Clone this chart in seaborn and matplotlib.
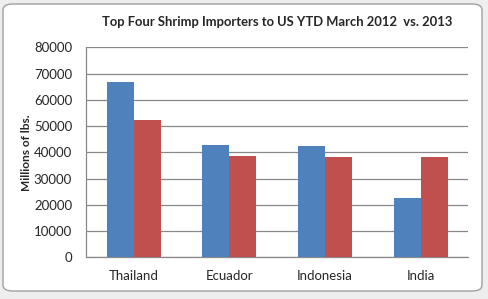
import matplotlib
matplotlib.use("Agg")
import matplotlib.pyplot as plt
from matplotlib.patches import FancyBboxPatch
import seaborn as sns
import pandas as pd

countries = ["Thailand", "Ecuador", "Indonesia", "India"]
years = ["2012", "2013"]
values_2012 = [66800, 42700, 42400, 22500]
values_2013 = [52300, 38600, 38200, 38200]
yticks = [0, 10000, 20000, 30000, 40000, 50000, 60000, 70000, 80000]

df = pd.DataFrame({
    "country": countries * 2,
    "year": [years[0]] * 4 + [years[1]] * 4,
    "value": values_2012 + values_2013,
})

sns.set_style("white")
plt.rcParams["font.family"] = ["Lato", "DejaVu Sans"]

fig = plt.figure(figsize=(4.88, 2.99), dpi=100)
fig.patch.set_facecolor("#eeeeee")
frame = FancyBboxPatch((3 / 488, 8 / 299), 479 / 488, 287 / 299,
                       boxstyle="round,pad=0,rounding_size=0.02",
                       transform=fig.transFigure, facecolor="white",
                       edgecolor="#a0a0a0", linewidth=1.0, zorder=-5)
fig.patches.append(frame)

ax = fig.add_axes([86 / 488, 1 - 257.3 / 299, (468.3 - 86) / 488, 210 / 299])
ax.set_zorder(2)
ax.set_facecolor("none")
sns.barplot(data=df, x="country", y="value", hue="year",
            palette=["#4F81BD", "#C0504D"], width=0.565, gap=0,
            saturation=1, ax=ax, legend=False, zorder=3, linewidth=0)

ax.set_ylim(0, 80000)
ax.set_xlim(-0.5, 3.5)
ax.set_yticks(yticks)
ax.set_yticklabels([str(v) for v in yticks], fontsize=9.5)
ax.yaxis.grid(True, color="#888888", linewidth=0.9, zorder=0)
ax.set_axisbelow(True)
for s in ["top", "right"]:
    ax.spines[s].set_visible(False)
for s in ["left", "bottom"]:
    ax.spines[s].set_color("#888888")
    ax.spines[s].set_linewidth(0.9)
ax.tick_params(axis="y", length=0, pad=10)
ax.tick_params(axis="x", length=0, pad=9, labelsize=9.5)
ax.set_xlabel("")
ax.set_ylabel("Millions of lbs.", fontsize=8.6, fontweight="bold", labelpad=1)

fig.text(0.567, 1 - 22 / 299, "Top Four Shrimp Importers to US YTD March 2012  vs. 2013",
         ha="center", va="center", fontsize=9.4, fontweight="bold", zorder=5)

fig.savefig("out.png", dpi=100, facecolor=fig.get_facecolor())
